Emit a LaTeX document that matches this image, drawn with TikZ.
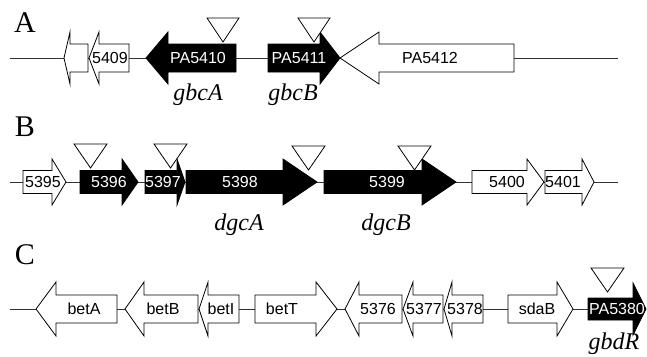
\documentclass[tikz,border=0pt]{standalone}
\usepackage{fontspec}
\setmainfont{Liberation Serif}
\newfontfamily\genefont{Liberation Sans}
\tikzset{
  genew/.style={draw=black, fill=white, line width=0.8pt, line join=miter},
  geneb/.style={draw=black, fill=black, line width=0.8pt, line join=miter},
  backbone/.style={draw=black!80, line width=0.9pt},
  insertion/.style={draw=black, fill=white, line width=0.8pt},
  glabel/.style={font=\genefont\fontsize{16}{18}\selectfont, inner sep=0pt, text=black},
  wlabel/.style={glabel, text=white},
  gname/.style={font=\fontsize{24}{26}\selectfont\itshape, inner sep=0pt},
  panel/.style={font=\fontsize{30}{32}\selectfont, inner sep=0pt},
}
% right-pointing gene: style, body start, head base, tip, axis y, body half height, head half height
\newcommand\geneR[7]{\draw[#1] (#2,#5-#6) -- (#3,#5-#6) -- (#3,#5-#7) -- (#4,#5) -- (#3,#5+#7) -- (#3,#5+#6) -- (#2,#5+#6) -- cycle;}
% left-pointing gene: style, tip, head base, body end, axis y, body half height, head half height
\newcommand\geneL[7]{\draw[#1] (#2,#5) -- (#3,#5-#7) -- (#3,#5-#6) -- (#4,#5-#6) -- (#4,#5+#6) -- (#3,#5+#6) -- (#3,#5+#7) -- cycle;}
% insertion marker: left x, right x, top y, apex y
\newcommand\ins[4]{\draw[insertion] (#1,#3) -- (#2,#3) -- ({(#1+#2)/2},#4) -- cycle;}
\begin{document}
\begin{tikzpicture}[x=1pt,y=-1pt]
\useasboundingbox (0,0) rectangle (647,356);

% ---------------- panel A ----------------
\node[panel] (pA) at (25,23) {A};
\coordinate (a0) at (10,58);
\coordinate (a1) at (618,58);
\draw[backbone] (a0) -- (a1);
\geneL{genew}{64}{70}{88}{58}{14}{26}
\geneL{genew}{89}{99}{129}{58}{14}{26}
\geneL{geneb}{146}{168}{236}{58}{14}{26}
\geneR{geneb}{268}{320}{340}{58}{14}{26}
\geneL{genew}{340}{379}{514}{58}{14}{26}
\node[glabel] (g5409) at (110,58) {5409};
\node[wlabel] (g5410) at (198,58) {PA5410};
\node[wlabel] (g5411) at (299,58) {PA5411};
\node[glabel] (g5412) at (430,58) {PA5412};
\ins{207}{239}{18}{42}
\ins{298}{330}{18}{42}
\node[gname] (gbcA) at (198,95) {gbcA};
\node[gname] (gbcB) at (293,95) {gbcB};

% ---------------- panel B ----------------
\node[panel] (pB) at (25,127) {B};
\coordinate (b0) at (10,182);
\coordinate (b1) at (618,182);
\draw[backbone] (b0) -- (b1);
\geneR{genew}{23}{52}{66}{182}{11.5}{23}
\geneR{geneb}{80}{122}{138}{182}{11.5}{23}
\geneR{geneb}{145}{177}{185}{182}{11.5}{23}
\geneR{geneb}{186}{283}{317}{182}{11.5}{23}
\geneR{geneb}{324}{422}{456}{182}{11.5}{23}
\geneR{genew}{472}{527}{544}{182}{11.5}{23}
\geneR{genew}{545}{582}{594}{182}{11.5}{23}
\node[glabel] (g5395) at (43,182) {5395};
\node[wlabel] (g5396) at (109,182) {5396};
\node[wlabel] (g5397) at (163,182) {5397};
\node[wlabel] (g5398) at (240,182) {5398};
\node[wlabel] (g5399) at (387,182) {5399};
\node[glabel] (g5400) at (507,182) {5400};
\node[glabel] (g5401) at (563,182) {5401};
\ins{74}{107}{144}{168}
\ins{154}{187}{144}{168}
\ins{292}{325}{146}{170}
\ins{398}{431}{146}{170}
\node[gname] (dgcA) at (239,225) {dgcA};
\node[gname] (dgcB) at (386,225) {dgcB};

% ---------------- panel C ----------------
\node[panel] (pC) at (25,255) {C};
\coordinate (c0) at (10,309);
\coordinate (c1) at (640,309);
\draw[backbone] (c0) -- (c1);
\geneL{genew}{36}{56}{117}{309}{14}{27}
\geneL{genew}{125}{144}{198}{309}{14}{27}
\geneL{genew}{199}{208}{239}{309}{14}{27}
\geneR{genew}{255}{316}{337}{309}{14}{27}
\geneL{genew}{345}{359}{402}{309}{14}{27}
\geneL{genew}{403}{413}{443}{309}{14}{27}
\geneL{genew}{444}{452}{483}{309}{14}{27}
\geneR{genew}{508}{557}{573}{309}{14}{27}
\geneR{geneb}{588}{633}{646}{309}{11}{26}
\node[glabel] (betA) at (84,309) {betA};
\node[glabel] (betB) at (163,309) {betB};
\node[glabel] (betI) at (221,309) {betI};
\node[glabel] (betT) at (282,309) {betT};
\node[glabel] (g5376) at (378,309) {5376};
\node[glabel] (g5377) at (424,309) {5377};
\node[glabel] (g5378) at (465,309) {5378};
\node[glabel] (sdaB) at (537,309) {sdaB};
\node[wlabel] (g5380) at (617,309) {PA5380};
\ins{591}{624}{268}{292}
\node[gname] (gbdR) at (614,344) {gbdR};
\end{tikzpicture}
\end{document}
